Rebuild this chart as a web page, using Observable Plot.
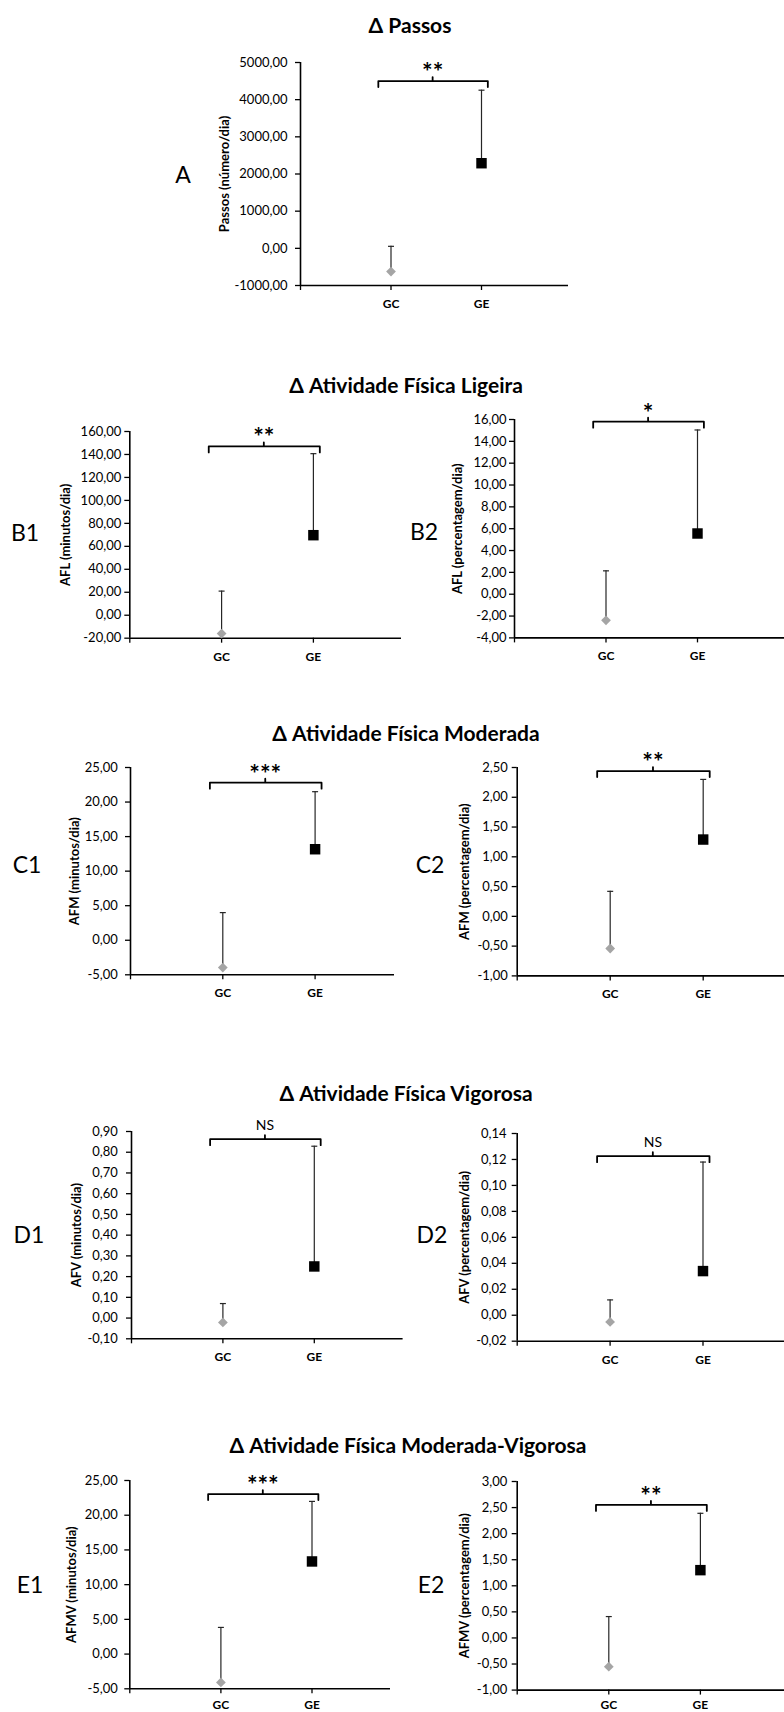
<!DOCTYPE html>
<html><head><meta charset="utf-8">
<script src="https://cdn.jsdelivr.net/npm/d3@7"></script>
<script src="https://cdn.jsdelivr.net/npm/@observablehq/plot@0.6"></script>
<style>
html,body{margin:0;padding:0;background:#fff;}
#page{position:relative;width:784px;height:1712px;overflow:hidden;background:#fff;font-family:Lato,"Open Sans",sans-serif;color:#000;}
.title{position:absolute;width:600px;text-align:center;font-weight:bold;font-size:21px;line-height:1;white-space:nowrap;}
.letter{position:absolute;width:80px;text-align:center;font-size:23px;line-height:1;white-space:nowrap;}
svg [aria-label="x-axis tick label"]{font-weight:bold;}
</style></head><body><div id="page"></div>
<script>
// ---------- data ----------
const groups = ["GC", "GE"];
const panelIds = ["A", "B1", "B2", "C1", "C2", "D1", "D2", "E1", "E2"];
const sectionTitles = ["Δ Passos", "Δ Atividade Física Ligeira", "Δ Atividade Física Moderada", "Δ Atividade Física Vigorosa", "Δ Atividade Física Moderada-Vigorosa"];
const yLabels = ["Passos (número/dia)", "AFL (minutos/dia)", "AFL (percentagem/dia)", "AFM (minutos/dia)", "AFM (percentagem/dia)", "AFV (minutos/dia)", "AFV (percentagem/dia)", "AFMV (minutos/dia)", "AFMV (percentagem/dia)"];
const meanGC = [-625, -16, -2.39, -3.96, -0.54, -0.021, -0.0052, -4.09, -0.55];
const errGC  = [679, 37, 4.53, 7.96, 0.96, 0.091, 0.017, 7.93, 0.96];
const meanGE = [2290, 69.7, 5.56, 13.17, 1.29, 0.249, 0.034, 13.34, 1.30];
const errGE  = [1965, 71, 9.48, 8.33, 1.01, 0.58, 0.084, 8.65, 1.09];
const yMins  = [-1000, -20, -4, -5, -1, -0.1, -0.02, -5, -1];
const yMaxs  = [5000, 160, 16, 25, 2.5, 0.9, 0.14, 25, 3];
const ySteps = [1000, 20, 2, 5, 0.5, 0.1, 0.02, 5, 0.5];
const significance = ["**", "**", "*", "***", "**", "NS", "NS", "***", "**"];
const bracketLevels = [4500, 147, 15.8, 22.8, 2.44, 0.863, 0.1225, 23.05, 2.55];

// ---------- layout (pixels) ----------
const layout = [
  {L:150, W:450, ax:300,   ar:568,   unit:90.5, yTop:62,     yBot:285,    pad:8,   labelOff:76,   lx:183, ly:175, xpad:9},
  {L:0,   W:400, ax:129.3, ar:401,   unit:91.8, yTop:431,    yBot:637.7,  pad:3.6, labelOff:64,   lx:25,  ly:533, xpad:9},
  {L:392, W:392, ax:514,   ar:784,   unit:91.5, yTop:419.3,  yBot:637.7,  pad:3,   labelOff:57,   lx:424, ly:532, xpad:9},
  {L:0,   W:400, ax:130,   ar:394,   unit:92.3, yTop:766.7,  yBot:974,    pad:7.7, labelOff:56,   lx:27,  ly:865, xpad:9},
  {L:392, W:392, ax:516.7, ar:784,   unit:93,   yTop:767.3,  yBot:975.7,  pad:4.4, labelOff:52,   lx:430, ly:865, xpad:9},
  {L:0,   W:400, ax:131,   ar:402.6, unit:91.4, yTop:1130.7, yBot:1338,   pad:8.7, labelOff:55,   lx:29,  ly:1235, xpad:9},
  {L:392, W:392, ax:516.7, ar:784,   unit:92.9, yTop:1133.3, yBot:1341,   pad:5.7, labelOff:52,   lx:432, ly:1235, xpad:9},
  {L:0,   W:400, ax:129.3, ar:390,   unit:91.1, yTop:1480,   yBot:1688.3, pad:7,   labelOff:57.6, lx:30,  ly:1585, xpad:6.5},
  {L:392, W:392, ax:516.7, ar:784,   unit:91.6, yTop:1480.7, yBot:1689.3, pad:5,   labelOff:52.4, lx:431, ly:1585, xpad:5.5}
];
const titlePos = [[410, 25], [406, 385], [406, 733], [406, 1093], [408, 1445]];

const page = document.getElementById("page");
const FONT = "Lato, 'Open Sans', sans-serif";

sectionTitles.forEach((t, k) => {
  const d = document.createElement("div");
  d.className = "title";
  d.textContent = t;
  d.style.left = (titlePos[k][0] - 300) + "px";
  d.style.top = (titlePos[k][1] - 0.527 * 21) + "px";
  page.appendChild(d);
});

const capSymbol = {draw(ctx, size) { const w = Math.sqrt(size / Math.PI); ctx.moveTo(-w, 0); ctx.lineTo(w, 0); }};
const fmt = v => (Math.abs(v) < 1e-9 ? 0 : v).toFixed(2).replace(".", ",");

panelIds.forEach((id, i) => {
  const lay = layout[i];
  const yMin = yMins[i], yMax = yMaxs[i], step = ySteps[i];
  const T = lay.yTop - 36, B = lay.yBot + 34;
  const H = B - T;
  const xMax = (lay.ar - lay.ax) / lay.unit;
  const pts = groups.map((g, j) => ({group: g, x: j + 1, mean: (j ? meanGE : meanGC)[i], err: (j ? errGE : errGC)[i]}));
  const ticks = d3.range(0, Math.round((yMax - yMin) / step) + 1).map(k => +(yMin + k * step).toFixed(6));
  const perPx = (yMax - yMin) / (lay.yBot - lay.yTop);
  const lvl = bracketLevels[i];
  const bx0 = 1 - 0.14, bx1 = 2 + 0.07, bxm = 1.46;
  const bracket = [[bx0, lvl - 6 * perPx], [bx0, lvl], [bxm, lvl], [bxm, lvl + 4 * perPx], [bxm, lvl], [bx1, lvl], [bx1, lvl - 6 * perPx]];
  const sig = significance[i];
  const isNS = sig === "NS";
  const plot = Plot.plot({
    width: lay.W, height: H,
    marginLeft: lay.ax - lay.L, marginRight: lay.L + lay.W - lay.ar,
    marginTop: lay.yTop - T, marginBottom: B - lay.yBot,
    x: {domain: [0, xMax]},
    y: {domain: [yMin, yMax]},
    style: {fontFamily: FONT, background: "transparent", color: "#000", overflow: "visible"},
    marks: [
      Plot.axisY({ticks, tickFormat: fmt, tickSize: 5, tickPadding: lay.pad, fontSize: 13, label: null, strokeWidth: 1.3}),
      Plot.axisX({ticks: [0, 1, 2], tickFormat: v => groups[v - 1] ?? "", tickSize: 5, tickPadding: lay.xpad, fontSize: 12, fontWeight: "bold", label: null, strokeWidth: 1.3}),
      Plot.ruleX([0], {stroke: "#000", strokeWidth: 1.6}),
      Plot.ruleY([yMin], {stroke: "#000", strokeWidth: 1.6}),
      Plot.text([yLabels[i]], {text: d => d, frameAnchor: "left", textAnchor: "middle", lineAnchor: "middle", rotate: -90, dx: -lay.labelOff, fontSize: 13, fontWeight: "bold", fill: "#000"}),
      Plot.ruleX(pts, {x: "x", y1: "mean", y2: d => d.mean + d.err, stroke: "#262626", strokeWidth: 1.2}),
      Plot.dot(pts, {x: "x", y: d => d.mean + d.err, symbol: capSymbol, r: 3, stroke: "#262626", strokeWidth: 1.2, fill: "none"}),
      Plot.dot(pts.filter(d => d.group === "GC"), {x: "x", y: "mean", symbol: "diamond2", r: 4.4, fill: "#a5a5a5", stroke: "none"}),
      Plot.dot(pts.filter(d => d.group === "GE"), {x: "x", y: "mean", symbol: "square", r: 5.9, fill: "#000", stroke: "none"}),
      Plot.line(bracket, {x: d => d[0], y: d => d[1], stroke: "#000", strokeWidth: 1.8, strokeLinejoin: "round"}),
      Plot.text([{x: bxm, y: lvl, t: sig}], {x: "x", y: "y", text: "t", lineAnchor: "middle",
        fontSize: isNS ? 14 : 25, fontWeight: isNS ? "normal" : "bold", dy: isNS ? -14 : -8, fill: "#000"})
    ]
  });
  plot.style.position = "absolute";
  plot.style.left = lay.L + "px";
  plot.style.top = T + "px";
  plot.style.maxWidth = "none";
  page.appendChild(plot);

  const letter = document.createElement("div");
  letter.className = "letter";
  letter.textContent = id;
  letter.style.left = (lay.lx - 40) + "px";
  letter.style.top = (lay.ly - 0.527 * 23) + "px";
  page.appendChild(letter);
});
</script>
</body></html>
